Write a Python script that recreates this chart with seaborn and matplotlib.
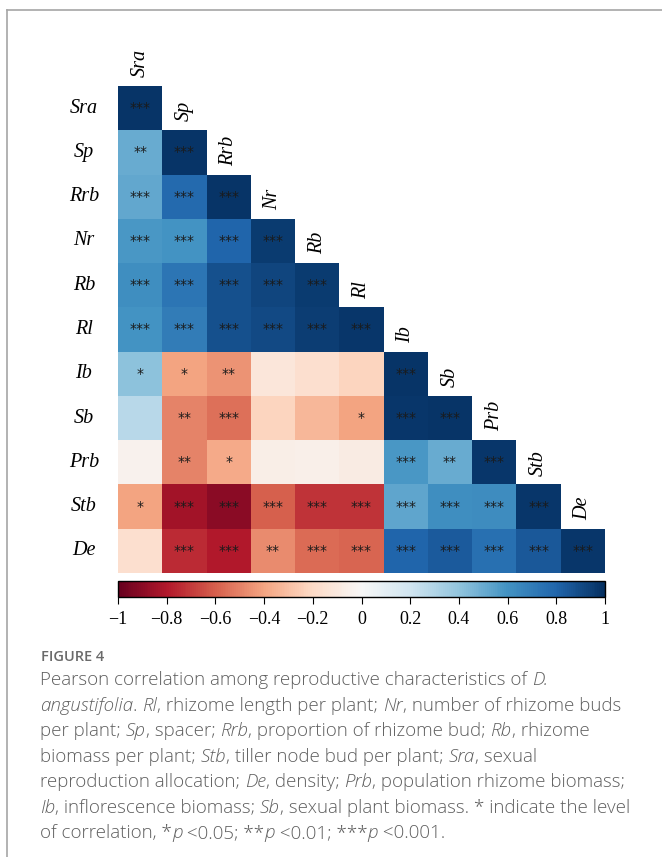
import numpy as np
import pandas as pd
import matplotlib
matplotlib.use("Agg")
import matplotlib.pyplot as plt
import seaborn as sns
from matplotlib.lines import Line2D

variables = ["Sra", "Sp", "Rrb", "Nr", "Rb", "Rl", "Ib", "Sb", "Prb", "Stb", "De"]

# lower-triangle Pearson r (row variable vs. columns up to the diagonal)
r_Sra = [0.98]
r_Sp  = [0.50, 0.98]
r_Rrb = [0.52, 0.78, 0.98]
r_Nr  = [0.58, 0.60, 0.80, 0.96]
r_Rb  = [0.62, 0.73, 0.88, 0.92, 0.96]
r_Rl  = [0.60, 0.70, 0.88, 0.90, 0.95, 0.97]
r_Ib  = [0.41, -0.40, -0.45, -0.12, -0.17, -0.22, 0.98]
r_Sb  = [0.28, -0.50, -0.55, -0.22, -0.33, -0.40, 0.97, 0.98]
r_Prb = [-0.04, -0.50, -0.38, -0.07, -0.06, -0.08, 0.58, 0.50, 0.97]
r_Stb = [-0.40, -0.84, -0.90, -0.60, -0.72, -0.72, 0.53, 0.62, 0.63, 0.97]
r_De  = [-0.17, -0.75, -0.80, -0.47, -0.57, -0.58, 0.80, 0.84, 0.75, 0.85, 0.97]

s_Sra = ["***"]
s_Sp  = ["**", "***"]
s_Rrb = ["***", "***", "***"]
s_Nr  = ["***", "***", "***", "***"]
s_Rb  = ["***", "***", "***", "***", "***"]
s_Rl  = ["***", "***", "***", "***", "***", "***"]
s_Ib  = ["*", "*", "**", "", "", "", "***"]
s_Sb  = ["", "**", "***", "", "", "*", "***", "***"]
s_Prb = ["", "**", "*", "", "", "", "***", "**", "***"]
s_Stb = ["*", "***", "***", "***", "***", "***", "***", "***", "***", "***"]
s_De  = ["", "***", "***", "**", "***", "***", "***", "***", "***", "***", "***"]

cbar_ticks = [-1, -0.8, -0.6, -0.4, -0.2, 0, 0.2, 0.4, 0.6, 0.8, 1]
cbar_labels = ["\u22121", "\u22120.8", "\u22120.6", "\u22120.4", "\u22120.2", "0",
               "0.2", "0.4", "0.6", "0.8", "1"]

rows_r = [r_Sra, r_Sp, r_Rrb, r_Nr, r_Rb, r_Rl, r_Ib, r_Sb, r_Prb, r_Stb, r_De]
rows_s = [s_Sra, s_Sp, s_Rrb, s_Nr, s_Rb, s_Rl, s_Ib, s_Sb, s_Prb, s_Stb, s_De]
n = len(variables)
mat = np.full((n, n), np.nan)
ann = np.full((n, n), "", dtype=object)
for i in range(n):
    for j, v in enumerate(rows_r[i]):
        mat[i, j] = v
        ann[i, j] = rows_s[i][j]
df = pd.DataFrame(mat, index=variables, columns=variables)
ann_df = pd.DataFrame(ann, index=variables, columns=variables)
mask = np.isnan(mat)

W, H = 662, 857
fig = plt.figure(figsize=(W / 100, H / 100), dpi=100)
fig.patch.set_facecolor("white")

ax = fig.add_axes([118 / W, 1 - 573 / H, 487 / W, 487 / H])
cax = fig.add_axes([118 / W, 1 - 597 / H, 487 / W, 16 / H])

sns.heatmap(df, mask=mask, ax=ax, cbar_ax=cax, cmap="RdBu", vmin=-1, vmax=1,
            annot=ann_df, fmt="", annot_kws=dict(color="#1a1a1a", fontsize=10),
            cbar_kws=dict(orientation="horizontal", ticks=cbar_ticks),
            xticklabels=False, yticklabels=False, linewidths=0)

serif = "Liberation Serif"
ytr = ax.get_yaxis_transform()
for i, name in enumerate(variables):
    ax.text(-34 / 487, i + 0.5, name, transform=ytr, ha="center", va="center",
            fontsize=14.5, family=serif, style="italic", clip_on=False)
    ax.text(i + 0.5, i - 0.2, name, ha="center", va="bottom", rotation=90,
            fontsize=14.5, family=serif, style="italic", clip_on=False)
ax.tick_params(left=False, bottom=False)

cb = ax.collections[0].colorbar
cb.outline.set_edgecolor("black")
cb.outline.set_linewidth(1.0)
cax.set_xticks(cbar_ticks)
cax.set_xticklabels(cbar_labels, family=serif, fontsize=13)
cax.tick_params(axis="x", direction="out", length=5, width=0.8, pad=5, colors="black")

# frame lines
fx = 6.5 / W
fy = 1 - 10 / H
fig.add_artist(Line2D([fx, fx], [0, fy], color="#a6a6a6", lw=1.2, transform=fig.transFigure))
fig.add_artist(Line2D([fx, 1], [fy, fy], color="#a6a6a6", lw=1.2, transform=fig.transFigure))

cap_font = "Open Sans"
cap_color = "#5f5f5f"
fig.text(41 / W, 1 - 657 / H, "FIGURE 4", family=cap_font, fontsize=10.5, color="#6a6a6a",
         weight="semibold", va="center", ha="left")

caption = [
    [("Pearson correlation among reproductive characteristics of ", False), ("D.", True)],
    [("angustifolia", True), (". ", False), ("Rl", True), (", rhizome length per plant; ", False),
     ("Nr", True), (", number of rhizome buds", False)],
    [("per plant; ", False), ("Sp", True), (", spacer; ", False), ("Rrb", True),
     (", proportion of rhizome bud; ", False), ("Rb", True), (", rhizome", False)],
    [("biomass per plant; ", False), ("Stb", True), (", tiller node bud per plant; ", False),
     ("Sra", True), (", sexual", False)],
    [("reproduction allocation; ", False), ("De", True), (", density; ", False), ("Prb", True),
     (", population rhizome biomass;", False)],
    [("Ib", True), (", inflorescence biomass; ", False), ("Sb", True),
     (", sexual plant biomass. * indicate the level", False)],
    [("of correlation, *", False), ("p", True), (" <0.05; **", False), ("p", True),
     (" <0.01; ***", False), ("p", True), (" <0.001.", False)],
]
line_y = [680, 706, 731, 757, 782, 808, 833]
fig.canvas.draw()
renderer = fig.canvas.get_renderer()
for segs, yy in zip(caption, line_y):
    x = 40.0
    for txt, it in segs:
        t = fig.text(x / W, 1 - yy / H, txt, family=cap_font, fontsize=13.5, color=cap_color,
                     style="italic" if it else "normal", weight="light", va="center", ha="left")
        bb = t.get_window_extent(renderer=renderer)
        x += bb.width

fig.savefig("out.png", dpi=100, facecolor="white")
